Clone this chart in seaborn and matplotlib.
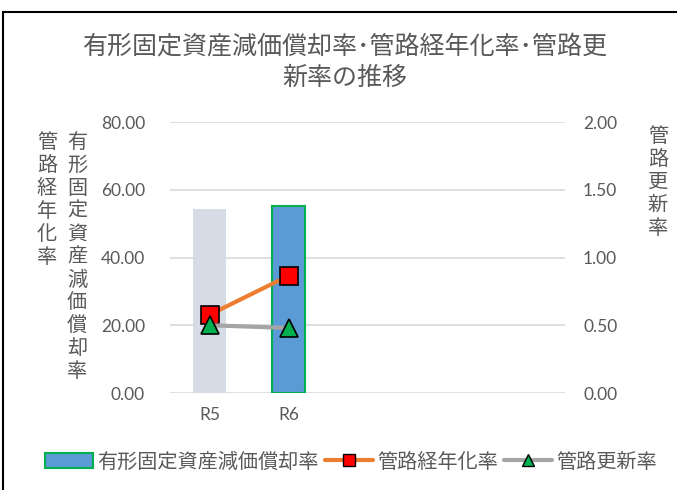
import numpy as np
import pandas as pd
import matplotlib
matplotlib.use("Agg")
import matplotlib.pyplot as plt
from matplotlib.patches import Patch, Rectangle
from matplotlib.lines import Line2D
import seaborn as sns

# --- データ ---
years = ["R5", "R6"]
depreciation = [54.4, 55.3]      # 有形固定資産減価償却率
aging = [23.1, 34.6]             # 管路経年化率
renewal = [0.50, 0.48]           # 管路更新率
n_slots = 5                      # 横軸の枠 (R5〜R9)

sns.set_theme(style="white")
plt.rcParams['font.family'] = ['Noto Sans CJK JP', 'DejaVu Sans']

GRAY = '#595959'
fig = plt.figure(figsize=(6.77, 4.90), dpi=100)
ax = fig.add_axes([170 / 677, 1 - 393 / 490, 395 / 677, 271 / 490])

df = pd.DataFrame({'年度': years, '値': depreciation})
sns.barplot(data=df, x='年度', y='値', hue='年度', palette=['#d6dce5', '#5b9bd5'],
            legend=False, width=0.42, ax=ax, saturation=1)
for p, ec in zip(ax.patches, ['none', '#00b050']):
    p.set_edgecolor(ec)
    p.set_linewidth(1.5)

xpos = np.arange(len(years))
sns.lineplot(x=xpos, y=aging, ax=ax, color='#ed7d31', linewidth=3, marker='s',
             markersize=13, markerfacecolor='#ff0000', markeredgecolor='black',
             markeredgewidth=1.2, zorder=5)

ax.set_xlim(-0.5, n_slots - 0.5)
ax.set_ylim(0, 80)
ax.set_yticks(np.arange(0, 81, 20))
ax.set_yticklabels([f'{v:.2f}' for v in np.arange(0, 81, 20)])
ax.set_xticks(xpos)
ax.set_xticklabels(years)
ax.set_xlabel('')
ax.set_ylabel('')
ax.grid(axis='y', color='#d9d9d9', linewidth=1.2)
ax.set_axisbelow(True)
for s in ax.spines.values():
    s.set_visible(False)
ax.tick_params(axis='y', length=0, pad=18, labelsize=12.5, labelcolor=GRAY)
ax.tick_params(axis='x', length=0, pad=10, labelsize=12.5, labelcolor=GRAY)
for lab in ax.get_xticklabels() + ax.get_yticklabels():
    lab.set_family(['Lato', 'DejaVu Sans'])

ax2 = ax.twinx()
sns.lineplot(x=xpos, y=renewal, ax=ax2, color='#a5a5a5', linewidth=3, marker='^',
             markersize=13, markerfacecolor='#00b050', markeredgecolor='black',
             markeredgewidth=1.2)
ax2.set_ylim(0, 2)
ax2.set_yticks(np.arange(0, 2.01, 0.5))
ax2.set_yticklabels([f'{v:.2f}' for v in np.arange(0, 2.01, 0.5)])
ax2.set_ylabel('')
ax2.grid(False)
for s in ax2.spines.values():
    s.set_visible(False)
ax2.tick_params(axis='y', length=0, pad=13, labelsize=12.5, labelcolor=GRAY)
for lab in ax2.get_yticklabels():
    lab.set_family(['Lato', 'DejaVu Sans'])

# タイトル
fig.text(345 / 677, 1 - 62 / 490, '有形固定資産減価償却率･管路経年化率･管路更\n新率の推移',
         ha='center', va='center', fontsize=18, color=GRAY, linespacing=1.3)

# 縦書きの軸ラベル
def vtext(x, y, s):
    fig.text(x / 677, 1 - y / 490, '\n'.join(s), ha='center', va='top',
             fontsize=14.5, color=GRAY, linespacing=1.12)

vtext(47, 132, '管路経年化率')
vtext(77, 132, '有形固定資産減価償却率')
vtext(658, 126, '管路更新率')

# 凡例
handles = [
    Patch(facecolor='#5b9bd5', edgecolor='#00b050', linewidth=1.5),
    Line2D([], [], color='#ed7d31', linewidth=3, marker='s', markersize=9,
           markerfacecolor='#ff0000', markeredgecolor='black'),
    Line2D([], [], color='#a5a5a5', linewidth=3, marker='^', markersize=9,
           markerfacecolor='#00b050', markeredgecolor='black'),
]
fig.legend(handles, ['有形固定資産減価償却率', '管路経年化率', '管路更新率'],
           loc='center', bbox_to_anchor=(351 / 677, 1 - 462 / 490), ncol=3,
           frameon=False, fontsize=14.5, labelcolor=GRAY, handlelength=2.4,
           handletextpad=0.2, columnspacing=0.3, borderaxespad=0)

# 外枠
fig.patches.append(Rectangle((3 / 677, -0.05), 1.2, 1 - 12 / 490 + 0.05,
                             transform=fig.transFigure, fill=False,
                             edgecolor='black', linewidth=1.5))

fig.savefig('out.png', dpi=100)
